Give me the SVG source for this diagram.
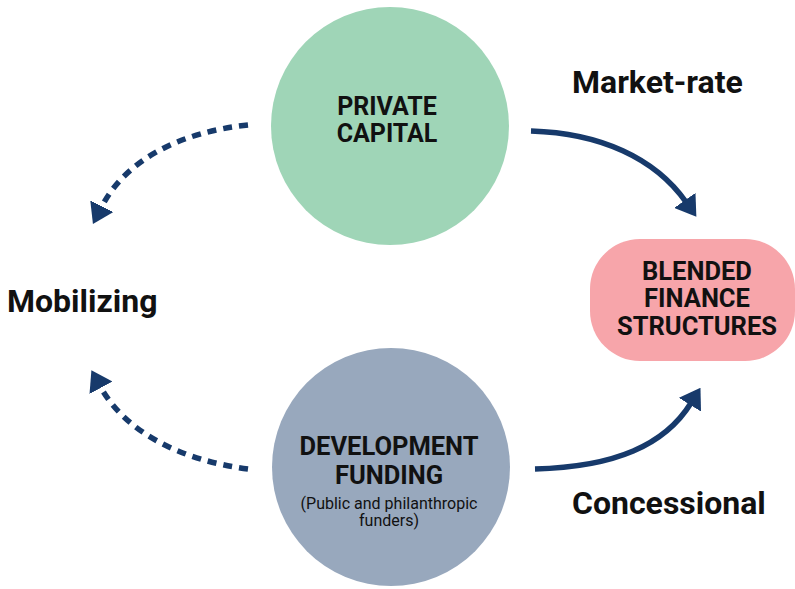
<svg xmlns="http://www.w3.org/2000/svg" width="795" height="589" viewBox="0 0 795 589">
<style>
.t{font-family:Roboto,"Liberation Sans",sans-serif;fill:#111;text-anchor:middle}
.b{font-weight:bold}
.lbl{font-family:Roboto,"Liberation Sans",sans-serif;font-weight:bold;font-size:32px;fill:#111}
.c{fill:none;stroke:#173a6b;stroke-width:5.5}
.d{stroke-dasharray:9 7}
</style>
<defs>
<marker id="ah" viewBox="0 0 20 26" refX="2" refY="13" markerWidth="20" markerHeight="26" markerUnits="userSpaceOnUse" orient="auto">
<path d="M0,0 L20,13 L0,26 z" fill="#173a6b"/>
</marker>
</defs>
<rect width="795" height="589" fill="#fff"/>
<g id="connectors">
<path class="c" d="M531,131 C600,133 655,158 686,202" marker-end="url(#ah)"/>
<path class="c" d="M535,469 C615,467 665,445 691,403" marker-end="url(#ah)"/>
<path class="c d" d="M248,125 C180,132 125,160 101,208" marker-end="url(#ah)"/>
<path class="c d" d="M248,469 C180,460 125,432 100,386" marker-end="url(#ah)"/>
</g>
<g id="private-capital">
<circle cx="390" cy="126" r="119" fill="#9fd5b7"/>
<text class="t b" x="387" y="115" font-size="25">PRIVATE</text>
<text class="t b" x="387" y="142" font-size="25">CAPITAL</text>
</g>
<g id="development-funding">
<circle cx="391" cy="467" r="119" fill="#98a8bd"/>
<text class="t b" x="389" y="455" font-size="25.5">DEVELOPMENT</text>
<text class="t b" x="389" y="484" font-size="25.5">FUNDING</text>
<text class="t" x="389" y="509" font-size="16">(Public and philanthropic</text>
<text class="t" x="389" y="526" font-size="16">funders)</text>
</g>
<g id="blended-finance">
<rect x="590" y="239" width="205" height="122" rx="50" fill="#f7a5aa"/>
<text class="t b" x="697" y="280" font-size="25.5">BLENDED</text>
<text class="t b" x="697" y="307" font-size="25.5">FINANCE</text>
<text class="t b" x="697" y="335" font-size="25.5">STRUCTURES</text>
</g>
<g id="labels">
<text class="lbl" x="572" y="93">Market-rate</text>
<text class="lbl" x="7" y="312">Mobilizing</text>
<text class="lbl" x="572" y="514">Concessional</text>
</g>
</svg>
